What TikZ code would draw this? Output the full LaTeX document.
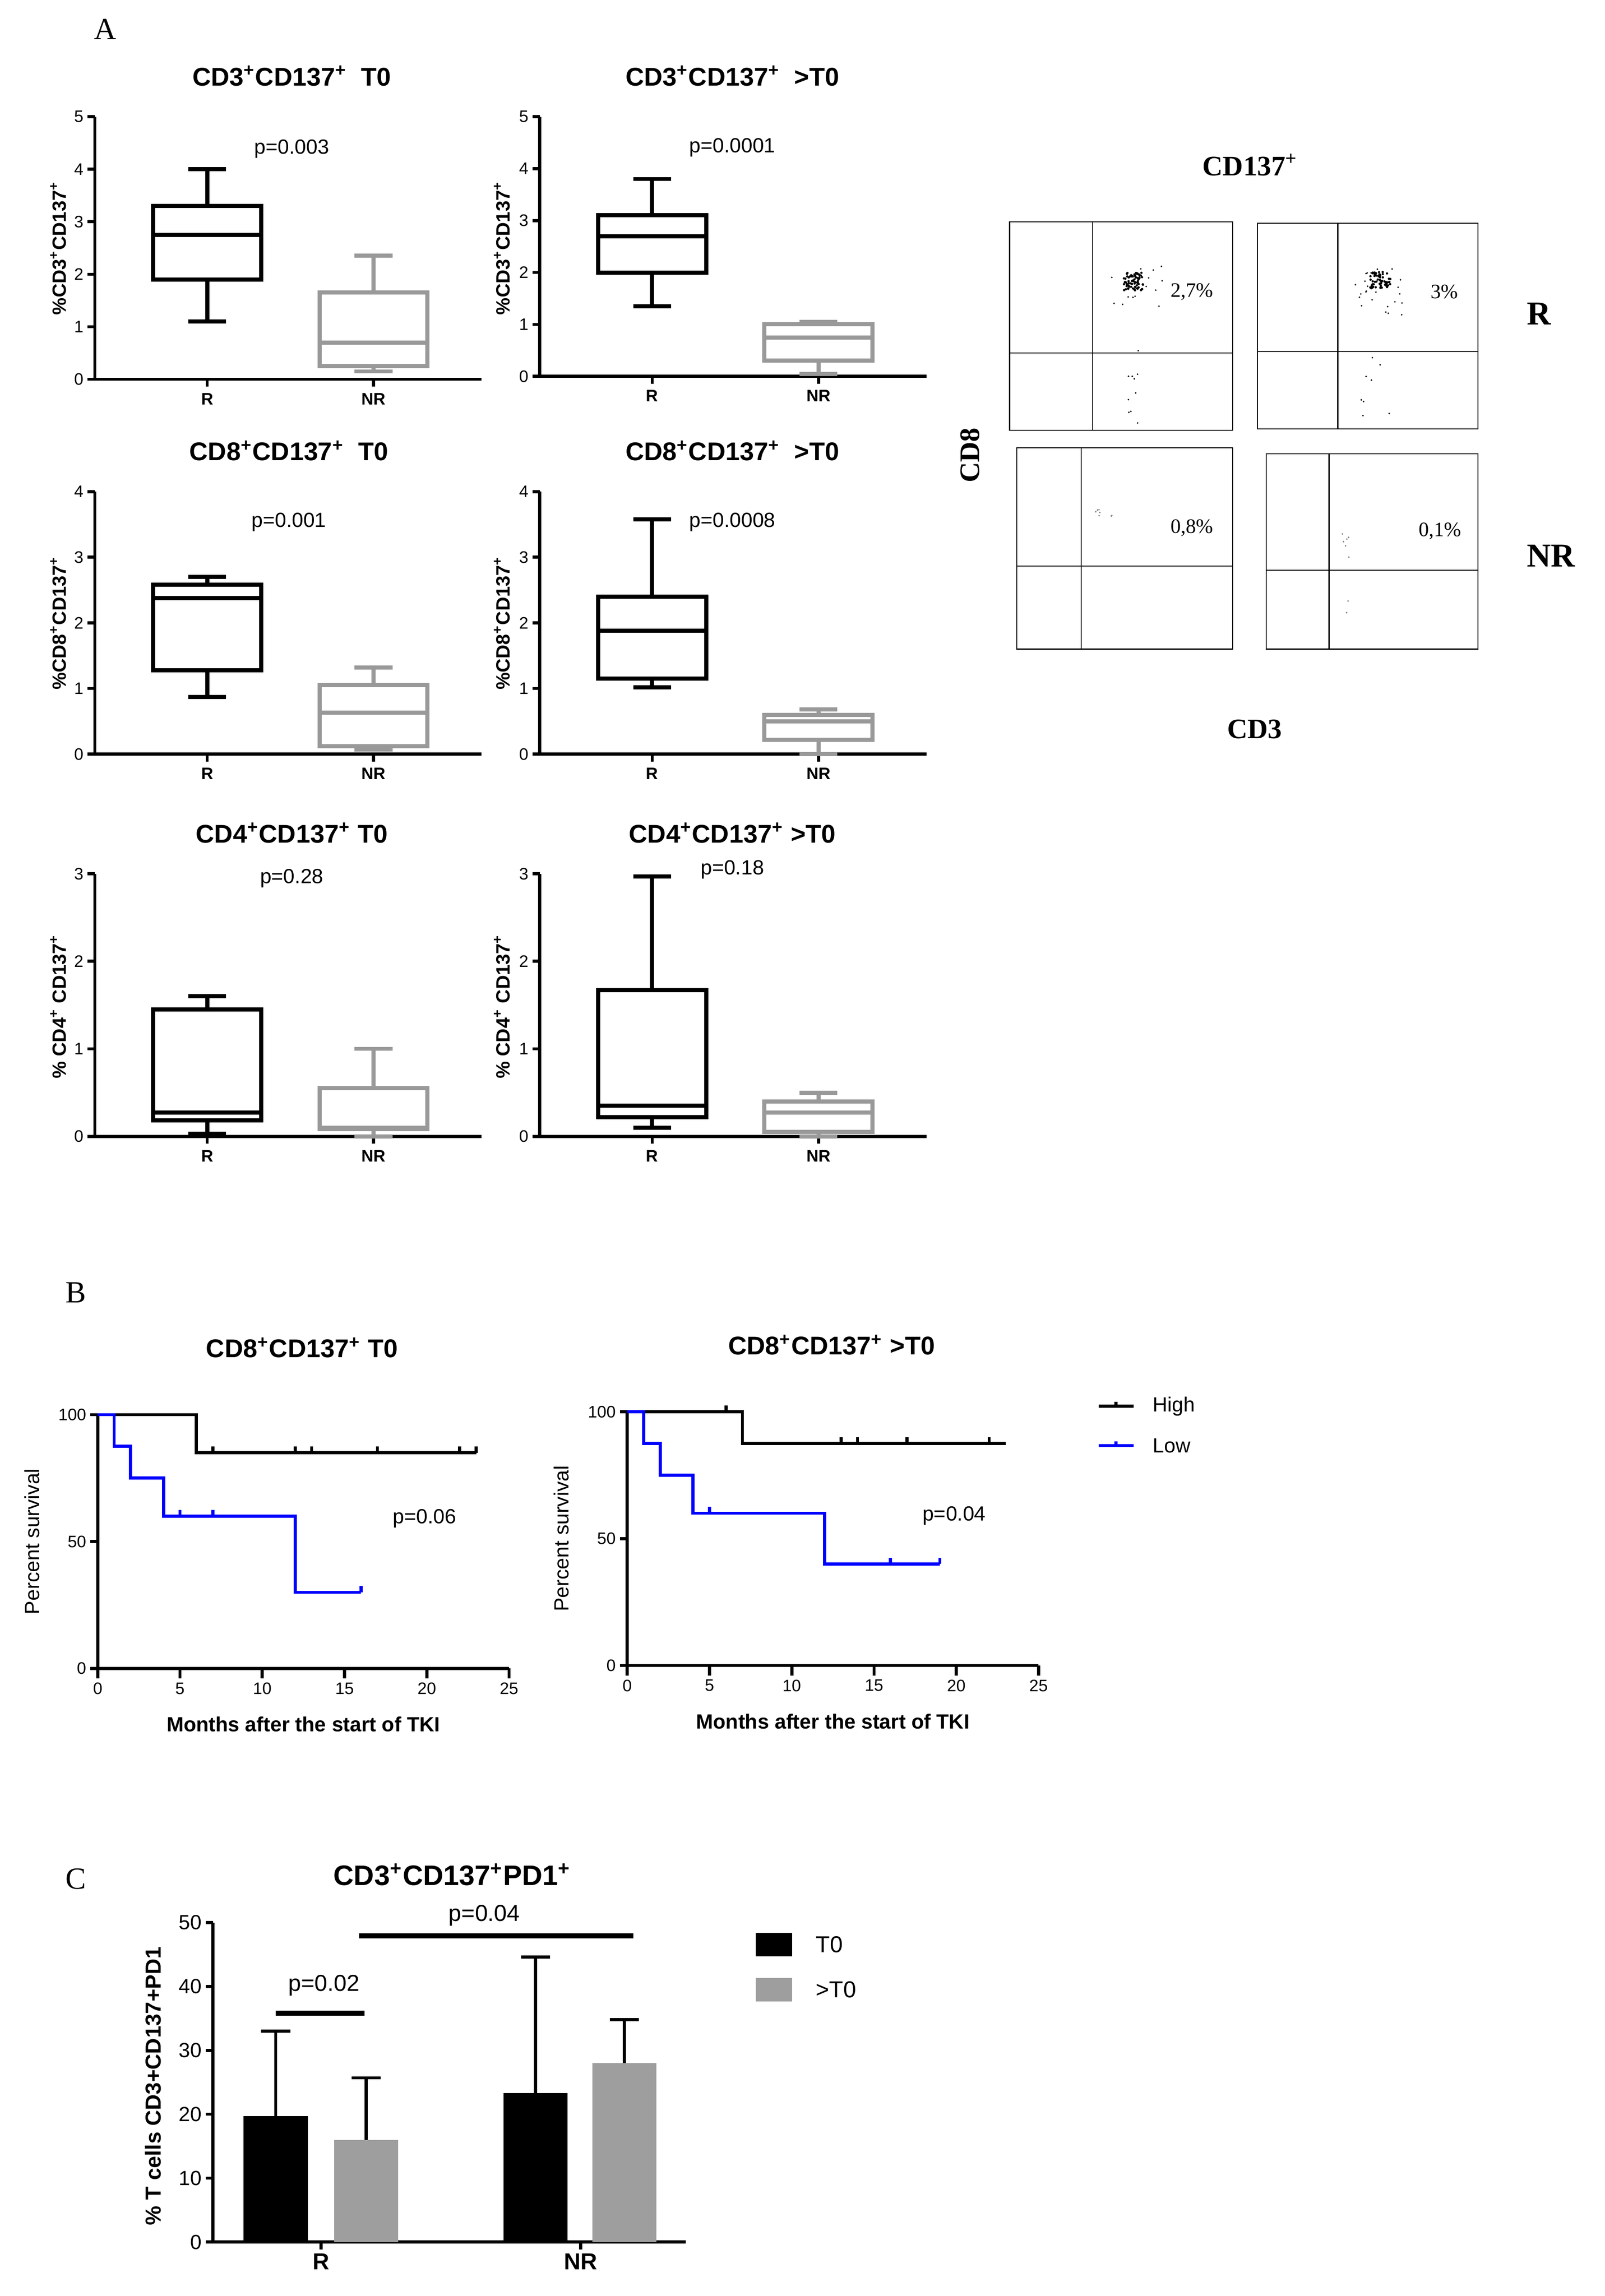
\documentclass[tikz,border=0pt]{standalone}
\usepackage{fontspec}
\setmainfont{Liberation Sans}
\newfontfamily\serf{Liberation Serif}
\newcommand\pls{\textsuperscript{+}}
\begin{document}
\begin{tikzpicture}[x=0.02cm,y=-0.02cm,
 lw/.style={line width=1.2pt},
 tt/.style={font=\fontsize{10}{12}\selectfont\bfseries},
 tk/.style={font=\fontsize{6.5}{8}\selectfont},
 tkb/.style={font=\fontsize{6.5}{8}\selectfont\bfseries},
 pv/.style={font=\fontsize{8}{10}\selectfont},
 yl/.style={font=\fontsize{7.5}{9}\selectfont\bfseries,rotate=90},
 sl/.style={font=\serf\fontsize{12}{14}\selectfont},
 sb/.style={font=\serf\fontsize{11}{13}\selectfont\bfseries},
 fl/.style={font=\serf\fontsize{8}{10}\selectfont},
 gr/.style={color=black!40}]
\useasboundingbox (0,0) rectangle (1100,1574);
\newcommand\axs[6]{%
 \draw[lw] (#1,{#3-#5*#4}) -- (#1,#3) -- (#2,#3);
 \foreach \k in {0,...,#5}{\draw[lw] (#1,{#3-\k*#4}) -- ++(-5,0) node[tk,left,inner sep=1pt]{\k};}
 \draw[lw] (#1+77,#3) -- ++(0,5) node[tkb,below,inner sep=2pt]{R};
 \draw[lw] (#1+191,#3) -- ++(0,5) node[tkb,below,inner sep=2pt]{NR};}
\newcommand\bxp[9]{%
 \draw[#9,line width=1.6pt] (#1-37,{#2-#5*#3}) rectangle (#1+37,{#2-#7*#3});
 \draw[#9,line width=1.6pt] (#1-37,{#2-#6*#3}) -- (#1+37,{#2-#6*#3});
 \draw[#9,line width=1.6pt] (#1,{#2-#7*#3}) -- (#1,{#2-#8*#3}) (#1-13,{#2-#8*#3}) -- (#1+13,{#2-#8*#3});
 \draw[#9,line width=1.6pt] (#1,{#2-#5*#3}) -- (#1,{#2-#4*#3}) (#1-13,{#2-#4*#3}) -- (#1+13,{#2-#4*#3});}
\node[sl] (A) at (72,20) {A};
% row 1
\node[tt] at (200,52) {CD3\pls CD137\pls\ \ T0};
\axs{65}{330}{260}{36}{5}{}
\bxp{142}{260}{36}{1.1}{1.9}{2.75}{3.3}{4.0}{black}
\bxp{256}{260}{36}{0.15}{0.25}{0.7}{1.65}{2.35}{gr}
\node[pv] at (200,102) {p=0.003};
\node[yl] at (40,170) {\%CD3\pls CD137\pls};
\node[tt] at (502,52) {CD3\pls CD137\pls\ \ >T0};
\axs{370}{635}{258}{35.6}{5}{}
\bxp{447}{258}{35.6}{1.35}{2.0}{2.7}{3.1}{3.8}{black}
\bxp{561}{258}{35.6}{0.05}{0.3}{0.75}{1.0}{1.05}{gr}
\node[pv] at (502,101) {p=0.0001};
\node[yl] at (344,170) {\%CD3\pls CD137\pls};
% row 2
\node[tt] at (198,309) {CD8\pls CD137\pls\ \ T0};
\axs{65}{330}{517}{45}{4}{}
\bxp{142}{517}{45}{0.87}{1.28}{2.38}{2.58}{2.7}{black}
\bxp{256}{517}{45}{0.07}{0.12}{0.63}{1.05}{1.32}{gr}
\node[pv] at (198,358) {p=0.001};
\node[yl] at (40,427) {\%CD8\pls CD137\pls};
\node[tt] at (502,309) {CD8\pls CD137\pls\ \ >T0};
\axs{370}{635}{517}{45}{4}{}
\bxp{447}{517}{45}{1.02}{1.15}{1.88}{2.4}{3.58}{black}
\bxp{561}{517}{45}{0.0}{0.22}{0.5}{0.6}{0.68}{gr}
\node[pv] at (502,358) {p=0.0008};
\node[yl] at (344,427) {\%CD8\pls CD137\pls};
% row 3
\node[tt] at (200,571) {CD4\pls CD137\pls\ T0};
\axs{65}{330}{779}{60}{3}{}
\bxp{142}{779}{60}{0.03}{0.18}{0.27}{1.45}{1.6}{black}
\bxp{256}{779}{60}{0.0}{0.08}{0.1}{0.55}{1.0}{gr}
\node[pv] at (200,602) {p=0.28};
\node[yl] at (40,690) {\% CD4\pls\ CD137\pls};
\node[tt] at (502,571) {CD4\pls CD137\pls\ >T0};
\axs{370}{635}{779}{60}{3}{}
\bxp{447}{779}{60}{0.1}{0.22}{0.35}{1.67}{2.97}{black}
\bxp{561}{779}{60}{0.0}{0.05}{0.27}{0.4}{0.5}{gr}
\node[pv] at (502,596) {p=0.18};
\node[yl] at (344,690) {\% CD4\pls\ CD137\pls};
% flow
\node[sb] at (857,113) {CD137\pls};
\draw (692,152) rectangle (845,295) (749,152) -- (749,295) (692,242) -- (845,242);
\draw (862,153) rectangle (1013,294) (917,153) -- (917,294) (862,241) -- (1013,241);
\draw (697,307) rectangle (845,445) (741,307) -- (741,445) (697,388) -- (845,388);
\draw (868,311) rectangle (1013,445) (911,311) -- (911,445) (868,391) -- (1013,391);
\pgfmathsetseed{7}
\foreach \i in {1,...,70}{\fill ({777+7*rand},{193+6*rand}) circle (0.8);}
\foreach \i in {1,...,15}{\fill ({778+20*rand},{195+15*rand}) circle (0.6);}
\foreach \i in {1,...,10}{\fill ({777+4*rand},{265+25*rand}) circle (0.6);}
\foreach \i in {1,...,60}{\fill ({946+7*rand},{192+6*rand}) circle (0.8);}
\foreach \i in {1,...,25}{\fill ({944+18*rand},{200+16*rand}) circle (0.6);}
\foreach \i in {1,...,8}{\fill ({945+15*rand},{265+20*rand}) circle (0.6);}
\foreach \i in {1,...,7}{\fill[gray] ({757+6*rand},{352+3*rand}) circle (0.6);}
\foreach \i in {1,...,6}{\fill[gray] ({922+3*rand},{375+10*rand}) circle (0.6);}
\fill[gray] (924,412) circle (0.6) (923,420) circle (0.6);
\node[fl] at (817,200) {2,7\%};
\node[fl] at (990,200) {3\%};
\node[fl] at (817,362) {0,8\%};
\node[fl] at (987,364) {0,1\%};
\node[sb,font=\serf\fontsize{13}{15}\selectfont\bfseries] at (1055,215) {R};
\node[sb,font=\serf\fontsize{13}{15}\selectfont\bfseries] at (1063,381) {NR};
\node[sb,rotate=90] at (665,312) {CD8};
\node[sb] at (860,500) {CD3};
% Panel B
\node[sl] (B) at (52,886) {B};
\newcommand\kmaxis{%
 \draw[lw] (0,100) -- (0,0) -- (25,0);
 \foreach \k in {0,50,100}{\draw[lw] (0,\k) -- ++(-0.45,0) node[tk,left,inner sep=1pt]{\k};}
 \foreach \k in {0,5,...,25}{\draw[lw] (\k,0) -- ++(0,-4) node[tk,below,inner sep=1pt]{\k};}
 \node[font=\fontsize{8}{10}\selectfont\bfseries] at (12.5,-22) {Months after the start of TKI};
 \node[yl,font=\fontsize{8}{10}\selectfont] at (-4,50) {Percent survival};}
\begin{scope}[xshift=1.34cm,yshift=-22.88cm,x=0.2256cm,y=0.0348cm]
\kmaxis
\draw[lw] (0,100) -- (6,100) -- (6,85) -- (23,85);
\foreach \t in {7,12,13,17,22,23}{\draw[lw] (\t,85) -- ++(0,2.5);}
\draw[lw,blue] (0,100) -- (1,100) -- (1,87.5) -- (2,87.5) -- (2,75) -- (4,75) -- (4,60) -- (12,60) -- (12,30) -- (16,30);
\draw[lw,blue] (5,60) -- ++(0,2.5) (7,60) -- ++(0,2.5) (16,30) -- ++(0,2.5);
\end{scope}
\node[tt] at (207,924) {CD8\pls CD137\pls\ T0};
\node[pv] at (291,1041) {p=0.06};
\begin{scope}[xshift=8.6cm,yshift=-22.84cm,x=0.2256cm,y=0.0348cm]
\kmaxis
\draw[lw] (0,100) -- (7,100) -- (7,87.5) -- (23,87.5);
\draw[lw] (6,100) -- ++(0,2.5);
\foreach \t in {13,14,17,22}{\draw[lw] (\t,87.5) -- ++(0,2.5);}
\draw[lw,blue] (0,100) -- (1,100) -- (1,87.5) -- (2,87.5) -- (2,75) -- (4,75) -- (4,60) -- (12,60) -- (12,40) -- (19,40);
\draw[lw,blue] (5,60) -- ++(0,2.5) (16,40) -- ++(0,2.5) (19,40) -- ++(0,2.5);
\end{scope}
\node[tt] at (570,922) {CD8\pls CD137\pls\ >T0};
\node[pv] at (654,1039) {p=0.04};
\draw[lw] (753,964) -- (777,964) (765,964) -- (765,961);
\node[pv,anchor=west] at (784,964) {High};
\draw[lw,blue] (753,991) -- (777,991) (765,991) -- (765,988);
\node[pv,anchor=west] at (784,991) {Low};
% Panel C
\node[sl] (C) at (52,1288) {C};
\node[font=\fontsize{11}{13}\selectfont\bfseries] at (310,1285) {CD3\pls CD137\pls PD1\pls};
\draw[lw] (146,1318) -- (146,1537) -- (470,1537);
\foreach \k in {0,10,...,50}{\draw[lw] (146,{1537-\k*4.38}) -- ++(-5,0) node[font=\fontsize{8}{10}\selectfont,left,inner sep=1pt]{\k};}
\draw[lw] (220,1537) -- ++(0,5) node[font=\fontsize{9}{11}\selectfont\bfseries,below,inner sep=1pt]{R};
\draw[lw] (398,1537) -- ++(0,5) node[font=\fontsize{9}{11}\selectfont\bfseries,below,inner sep=1pt]{NR};
\newcommand\mybar[5]{%
 \draw[lw] (#1+22,{1537-#3*4.38}) -- (#1+22,{1537-#4*4.38}) (#1+12,{1537-#4*4.38}) -- (#1+32,{1537-#4*4.38});
 \fill[#5] (#1,1537) rectangle (#2,{1537-#3*4.38});}
\mybar{167}{211}{19.7}{33}{black}
\mybar{229}{273}{16}{25.7}{black!38}
\mybar{345}{389}{23.3}{44.6}{black}
\mybar{406}{450}{28}{34.8}{black!38}
\draw[line width=2pt] (189,1380) -- (250,1380);
\node[font=\fontsize{9}{11}\selectfont] at (222,1361) {p=0.02};
\draw[line width=2pt] (246,1327) -- (434,1327);
\node[font=\fontsize{9}{11}\selectfont] at (332,1313) {p=0.04};
\node[font=\fontsize{8.5}{10}\selectfont\bfseries,rotate=90] at (105,1430) {\% T cells CD3+CD137+PD1};
\fill (518,1325) rectangle (543,1341);
\node[font=\fontsize{9}{11}\selectfont,anchor=west] at (553,1333) {T0};
\fill[black!38] (518,1356) rectangle (543,1372);
\node[font=\fontsize{9}{11}\selectfont,anchor=west] at (553,1364) {>T0};
\end{tikzpicture}
\end{document}
